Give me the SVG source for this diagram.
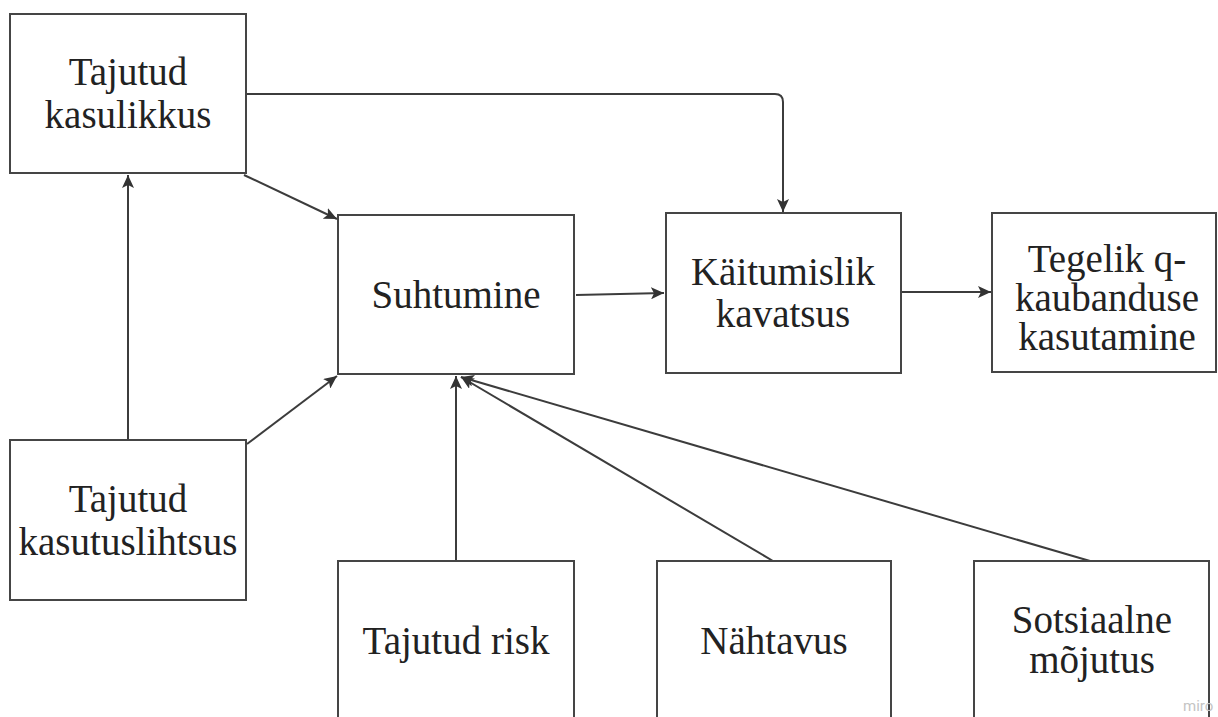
<svg xmlns="http://www.w3.org/2000/svg" width="1218" height="717" viewBox="0 0 1218 717">
<defs>
<style>
.box{fill:#fff;stroke:#454545;stroke-width:2}
.lbl{font-family:"Liberation Serif","Times New Roman",serif;font-size:39px;fill:#222;text-anchor:middle}
.con{fill:none;stroke:#3c3c3c;stroke-width:2}
</style>
<marker id="ah" markerUnits="userSpaceOnUse" markerWidth="14" markerHeight="12" refX="13" refY="6" orient="auto">
<path d="M0,0 L13,6 L0,12 L3,6 Z" fill="#333"/>
</marker>
</defs>
<rect width="1218" height="717" fill="#fff"/>
<g id="connectors">
<path class="con" d="M246,94 H775 Q783,94 783,102 V212" marker-end="url(#ah)"/>
<path class="con" d="M244,175 L337,219" marker-end="url(#ah)"/>
<path class="con" d="M128,440 V175" marker-end="url(#ah)"/>
<path class="con" d="M247,444 L337,376" marker-end="url(#ah)"/>
<path class="con" d="M576,295 L664,293" marker-end="url(#ah)"/>
<path class="con" d="M901,292 L991,292" marker-end="url(#ah)"/>
<path class="con" d="M456,561 V376" marker-end="url(#ah)"/>
<path class="con" d="M773,561 L461,377" marker-end="url(#ah)"/>
<path class="con" d="M1090,561 L461,377" marker-end="url(#ah)"/>
</g>
<g id="n-kasulikkus">
<rect class="box" x="10" y="14" width="236" height="159"/>
<text class="lbl" x="128" y="85">Tajutud</text>
<text class="lbl" x="128" y="128">kasulikkus</text>
</g>
<g id="n-kasutuslihtsus">
<rect class="box" x="10" y="440" width="236" height="160"/>
<text class="lbl" x="128" y="512">Tajutud</text>
<text class="lbl" x="128" y="555">kasutuslihtsus</text>
</g>
<g id="n-suhtumine">
<rect class="box" x="338" y="215" width="236" height="159"/>
<text class="lbl" x="456" y="308">Suhtumine</text>
</g>
<g id="n-kavatsus">
<rect class="box" x="666" y="213" width="235" height="160"/>
<text class="lbl" x="783" y="285">Käitumislik</text>
<text class="lbl" x="783" y="327">kavatsus</text>
</g>
<g id="n-kasutamine">
<rect class="box" x="992" y="213" width="224" height="159"/>
<text class="lbl" x="1107" y="272">Tegelik q-</text>
<text class="lbl" x="1107" y="311">kaubanduse</text>
<text class="lbl" x="1107" y="350">kasutamine</text>
</g>
<g id="n-risk">
<rect class="box" x="338" y="561" width="236" height="170"/>
<text class="lbl" x="456" y="654">Tajutud risk</text>
</g>
<g id="n-nahtavus">
<rect class="box" x="657" y="561" width="234" height="170"/>
<text class="lbl" x="774" y="654">Nähtavus</text>
</g>
<g id="n-sotsiaalne">
<rect class="box" x="974" y="561" width="235" height="170"/>
<text class="lbl" x="1092" y="633">Sotsiaalne</text>
<text class="lbl" x="1092" y="673">mõjutus</text>
</g>
<text x="1183" y="711" font-family="Roboto, 'Liberation Sans', sans-serif" font-size="15" fill="#c4c4c4">miro</text>
</svg>
